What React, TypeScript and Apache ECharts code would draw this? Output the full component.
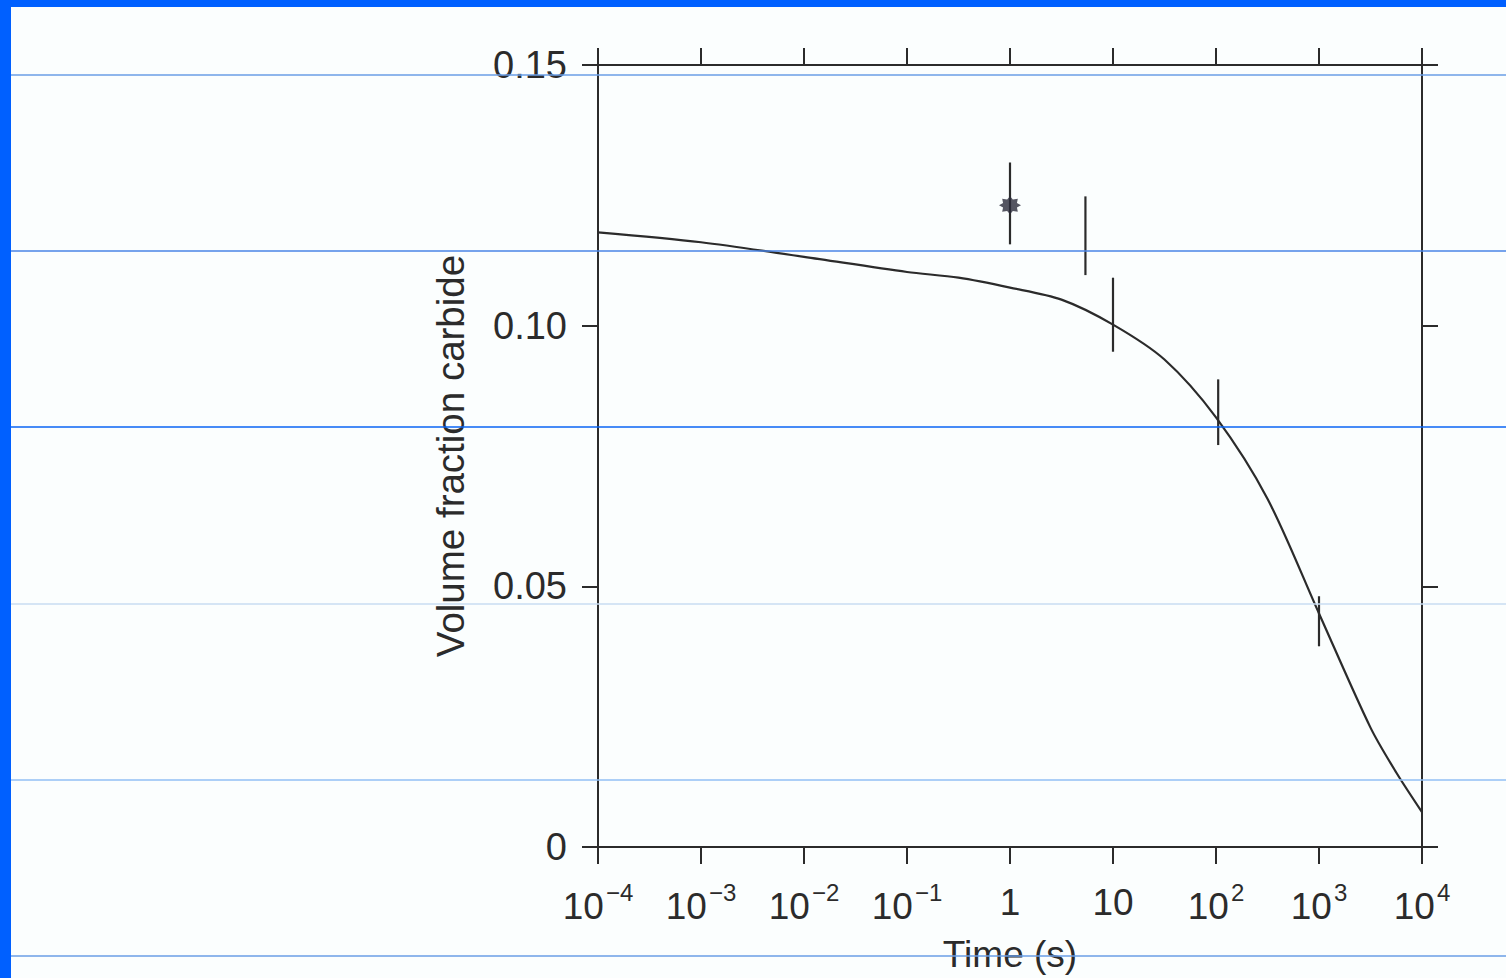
import React, { useEffect, useRef } from "react";
import * as echarts from "echarts";

// Simulated curve: [time (s), volume fraction carbide]
const curveTime = [1e-4, 1e-3, 1e-2, 0.1, 0.316, 1, 3.16, 10, 31.6, 100, 316, 1000, 3162, 5623, 1e4];
const curveFraction = [0.1179, 0.116, 0.1132, 0.1103, 0.1092, 0.1073, 0.105, 0.1002, 0.0935, 0.0824, 0.0668, 0.0448, 0.0229, 0.0143, 0.0067];

// Experimental error bars: time, low, high
const barTime = [1, 5.4, 10, 105, 1000];
const barLow = [0.1156, 0.1097, 0.095, 0.0771, 0.0385];
const barHigh = [0.1313, 0.1248, 0.1092, 0.0897, 0.0481];

// Starred measurement
const starTime = [1];
const starFraction = [0.1231];

// Tick labels
const xTickExponents = [-4, -3, -2, -1, 0, 1, 2, 3, 4];
const yTickValues = [0, 0.05, 0.1, 0.15];
const yTickLabels = ["0", "0.05", "0.10", "0.15"];

const FONT = "'Liberation Sans', Arial, Helvetica, sans-serif";
const INK = "#2b2b2b";

function xLabel(exp: number): string {
  if (exp === 0) return "1";
  if (exp === 1) return "10";
  const s = exp < 0 ? "\u2212" + Math.abs(exp) : String(exp);
  return "{b|10}{s|" + s + "}";
}

export default function App() {
  const ref = useRef<HTMLDivElement>(null);
  useEffect(() => {
    if (!ref.current) return;
    const chart = echarts.init(ref.current, null, { renderer: "svg" });
    const lineData = curveTime.map((t, i) => [t, curveFraction[i]]);
    const barData = barTime.map((t, i) => [t, barLow[i], barHigh[i]]);
    const starData = starTime.map((t, i) => [t, starFraction[i]]);

    const ruled = [
      { y: 75, c: "#6a9ee6" },
      { y: 251, c: "#4a84e6" },
      { y: 427, c: "#0a64f5" },
      { y: 604, c: "#c8dcf2" },
      { y: 780, c: "#92bff4" },
      { y: 956, c: "#6a9ee6" },
    ];

    const commonX = {
      type: "log" as const,
      logBase: 10,
      min: 1e-4,
      max: 1e4,
      splitLine: { show: false },
      minorTick: { show: false },
      axisLine: { show: true, onZero: false, lineStyle: { color: INK, width: 2 } },
      axisTick: { show: true, inside: false, length: 17, lineStyle: { color: INK, width: 2 } },
    };
    const commonY = {
      type: "value" as const,
      min: 0,
      max: 0.15,
      interval: 0.05,
      splitLine: { show: false },
      axisLine: { show: true, onZero: false, lineStyle: { color: INK, width: 2 } },
      axisTick: { show: true, inside: false, length: 16, lineStyle: { color: INK, width: 2 } },
    };

    chart.setOption({
      animation: false,
      backgroundColor: "#fbfefe",
      grid: { left: 598, right: 84, top: 65, bottom: 126, containLabel: false },
      xAxis: [
        {
          ...commonX,
          position: "bottom",
          name: "Time (s)",
          nameLocation: "middle",
          nameGap: 89,
          nameTextStyle: { fontFamily: FONT, fontSize: 37, color: INK },
          axisLabel: {
            margin: 33,
            fontFamily: FONT,
            color: INK,
            formatter: (v: number) => xLabel(xTickExponents[xTickExponents.indexOf(Math.round(Math.log10(v)))]),
            rich: {
              b: { fontSize: 37, fontFamily: FONT, color: INK, lineHeight: 45, verticalAlign: "bottom" },
              s: { fontSize: 24, fontFamily: FONT, color: INK, lineHeight: 28, verticalAlign: "top", padding: [0, 0, 0, 2] },
            },
            fontSize: 37,
            lineHeight: 45,
          },
        },
        {
          ...commonX,
          position: "top",
          axisLabel: { show: false },
        },
      ],
      yAxis: [
        {
          ...commonY,
          position: "left",
          name: "Volume fraction carbide",
          nameLocation: "middle",
          nameRotate: 90,
          nameGap: 128,
          nameTextStyle: { fontFamily: FONT, fontSize: 38.5, color: INK },
          axisLabel: {
            margin: 31,
            fontFamily: FONT,
            fontSize: 38,
            color: INK,
            formatter: (v: number) => {
              const i = yTickValues.findIndex((t) => Math.abs(t - v) < 1e-9);
              return i >= 0 ? yTickLabels[i] : "";
            },
          },
        },
        {
          ...commonY,
          position: "right",
          axisLabel: { show: false },
        },
      ],
      series: [
        {
          type: "line",
          data: lineData,
          smooth: 0.3,
          showSymbol: false,
          symbol: "none",
          lineStyle: { color: INK, width: 2.2 },
          z: 3,
        },
        {
          type: "custom",
          data: barData,
          renderItem: (params: any, api: any) => {
            const lo = api.coord([api.value(0), api.value(1)]);
            const hi = api.coord([api.value(0), api.value(2)]);
            return {
              type: "line",
              shape: { x1: lo[0], y1: lo[1], x2: hi[0], y2: hi[1] },
              style: { stroke: INK, lineWidth: 2.2 },
            };
          },
          z: 4,
        },
        {
          type: "scatter",
          data: starData,
          symbol:
            "path://M0,-10 L2.6,-6.3 L7.1,-7.1 L6.3,-2.6 L10,0 L6.3,2.6 L7.1,7.1 L2.6,6.3 L0,10 L-2.6,6.3 L-7.1,7.1 L-6.3,2.6 L-10,0 L-6.3,-2.6 L-7.1,-7.1 L-2.6,-6.3 Z",
          symbolSize: [22, 18],
          itemStyle: { color: "#2a2a3a" },
          z: 5,
        },
      ],
      graphic: [
        ...ruled.map((r) => ({
          type: "line",
          z: 100,
          silent: true,
          shape: { x1: 11, y1: r.y, x2: 1506, y2: r.y },
          style: { stroke: r.c, lineWidth: 1.5 },
        })),
        { type: "rect", z: 101, silent: true, shape: { x: 0, y: 0, width: 1506, height: 7 }, style: { fill: "#0060ff" } },
        { type: "rect", z: 101, silent: true, shape: { x: 0, y: 0, width: 11, height: 978 }, style: { fill: "#0060ff" } },
      ],
    });
    return () => chart.dispose();
  }, []);
  return (
    <div
      ref={ref}
      style={{ position: "fixed", left: 0, top: 0, width: 1506, height: 978 }}
    />
  );
}
